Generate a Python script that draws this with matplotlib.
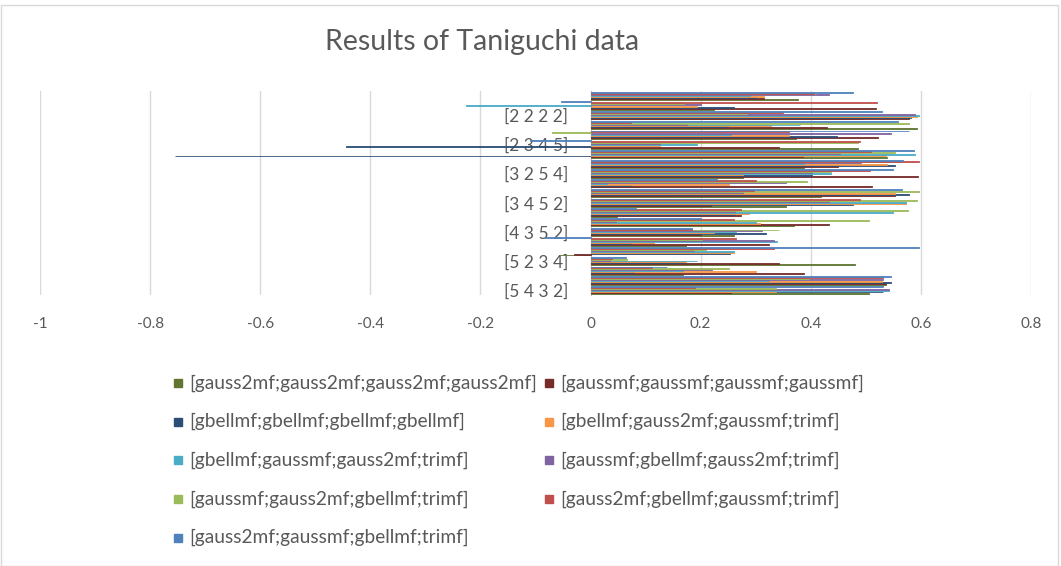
import matplotlib
matplotlib.use("Agg")
import matplotlib.pyplot as plt
import numpy as np
from matplotlib.patches import Rectangle

plt.rcParams["font.family"] = ["Lato", "DejaVu Sans"]
plt.rcParams["axes.unicode_minus"] = False

TEXT = "#595959"
GRID = "#D9D9D9"

# categories, first one at the bottom (Excel order); only every third is labelled
categories = ["[5 4 3 2]", "", "", "[5 2 3 4]", "", "", "[4 3 5 2]", "", "",
              "[3 4 5 2]", "", "", "[3 2 5 4]", "", "", "[2 3 4 5]", "", "",
              "[2 2 2 2]", "", ""]

series_names = [
    "[gauss2mf;gauss2mf;gauss2mf;gauss2mf]",
    "[gaussmf;gaussmf;gaussmf;gaussmf]",
    "[gbellmf;gbellmf;gbellmf;gbellmf]",
    "[gbellmf;gauss2mf;gaussmf;trimf]",
    "[gbellmf;gaussmf;gauss2mf;trimf]",
    "[gaussmf;gbellmf;gauss2mf;trimf]",
    "[gaussmf;gauss2mf;gbellmf;trimf]",
    "[gauss2mf;gbellmf;gaussmf;trimf]",
    "[gauss2mf;gaussmf;gbellmf;trimf]",
]
series_colors = ["#5F7530", "#772C2A", "#2C4D75", "#F79646", "#4BACC6",
                 "#8064A2", "#9BBB59", "#C0504D", "#4F81BD"]

s1 = [0.505, 0.536, 0.168, 0.48, -0.055, 0.173, 0.26, 0.37, 0.048, 0.355, 0.418,
      0.088, 0.276, 0.388, 0.538, 0.485, 0.373, 0.593, 0.497, 0.224, 0.376]
s2 = [0.255, 0.536, 0.388, 0.342, -0.03, 0.325, 0.2, 0.433, 0.273, 0.218, 0.553,
      0.512, 0.594, 0.45, 0.385, 0.342, 0.522, 0.43, 0.579, 0.518, 0.315]
s3 = [0.532, 0.545, 0.079, 0.17, 0.253, 0.074, 0.318, 0.20, 0.262, 0.476, 0.579,
      0.073, 0.403, 0.553, -0.755, -0.445, 0.448, 0.25, 0.582, 0.26, 0.30]
s4 = [0.336, 0.53, 0.30, 0.173, 0.26, 0.116, 0.224, 0.308, 0.288, 0.573, 0.553,
      0.252, 0.276, 0.538, 0.536, 0.127, 0.36, 0.327, 0.593, 0.193, 0.315]
s5 = [0.542, 0.325, 0.168, 0.194, 0.26, 0.339, 0.265, 0.30, 0.55, 0.573, 0.15,
      0.03, 0.436, 0.388, 0.589, 0.194, 0.255, 0.38, 0.596, -0.227, 0.29]
s6 = [0.542, 0.532, 0.221, 0.036, 0.188, 0.333, 0.312, 0.047, 0.262, 0.433, 0.276,
      0.355, 0.403, 0.492, 0.453, 0.127, 0.545, 0.176, 0.59, 0.20, 0.433]
s7 = [0.336, 0.397, 0.252, 0.067, 0.209, 0.203, 0.342, 0.506, 0.576, 0.593, 0.597,
      0.393, 0.436, 0.564, 0.553, 0.485, -0.07, 0.578, 0.285, 0.17, 0.41]
s8 = [0.19, 0.532, 0.112, 0.039, 0.333, 0.265, 0.185, 0.26, 0.273, 0.49, 0.297,
      0.30, 0.508, 0.596, 0.509, 0.49, 0.36, 0.073, 0.35, 0.52, 0.405]
s9 = [0.532, 0.545, 0.138, 0.065, 0.596, -0.083, 0.185, 0.20, 0.082, 0.285, 0.565,
      0.23, 0.55, 0.568, 0.587, -0.11, 0.579, 0.558, 0.53, -0.053, 0.476]
series_values = [s1, s2, s3, s4, s5, s6, s7, s8, s9]

xticks = [-1, -0.8, -0.6, -0.4, -0.2, 0, 0.2, 0.4, 0.6, 0.8]

W, H = 1061, 566
fig = plt.figure(figsize=(W / 100, H / 100), dpi=100)
ax = fig.add_axes([40 / W, 1 - 295 / H, 991 / W, 204 / H])

n_cat = len(categories)
n_ser = len(series_values)
bar_h = 1 / (n_ser + 1.5)          # 150% gap width
y = np.arange(n_cat)
for j, (vals, col) in enumerate(zip(series_values, series_colors)):
    # bars are under a pixel high, a thin edge keeps every one visible
    ax.barh(y + (j - (n_ser - 1) / 2) * bar_h, vals, height=bar_h,
            color=col, edgecolor=col, linewidth=0.6, zorder=3)

ax.set_xlim(-1, 0.8)
ax.set_ylim(-0.5, n_cat - 0.5)
ax.set_xticks(xticks)
ax.set_xticklabels([f"{v:g}" for v in xticks])
ax.set_yticks(y)
ax.set_yticklabels(categories)
ax.tick_params(axis="both", length=0, colors=TEXT)
ax.tick_params(axis="x", pad=16, labelsize=11)
ax.tick_params(axis="y", pad=16, labelsize=12.5)
ax.grid(axis="x", color=GRID, linewidth=1, zorder=0)
for name in ["top", "right", "bottom"]:
    ax.spines[name].set_visible(False)
ax.spines["left"].set_position(("data", 0))
ax.spines["left"].set_color("#BFBFBF")
ax.spines["left"].set_zorder(2)

fig.text(482 / W, 1 - 42 / H, "Results of Taniguchi data", ha="center",
         va="center", fontsize=20.5, color=TEXT)

# legend, filled row by row like Excel
for i, (name, col) in enumerate(zip(series_names, series_colors)):
    row, c = divmod(i, 2)
    x0 = [174, 545][c]
    yc = 383 + 38.7 * row
    fig.patches.append(Rectangle((x0 / W, 1 - (yc + 4) / H), 8 / W, 8 / H,
                                 transform=fig.transFigure, color=col))
    fig.text((x0 + 15) / W, 1 - yc / H, name, ha="left", va="center",
             fontsize=13.8, color=TEXT)

fig.patches.append(Rectangle((0.5 / W, 0.5 / H), (W - 4) / W, (H - 5) / H,
                             transform=fig.transFigure, fill=False,
                             edgecolor=GRID, linewidth=1))

fig.savefig("out.png", dpi=100)
